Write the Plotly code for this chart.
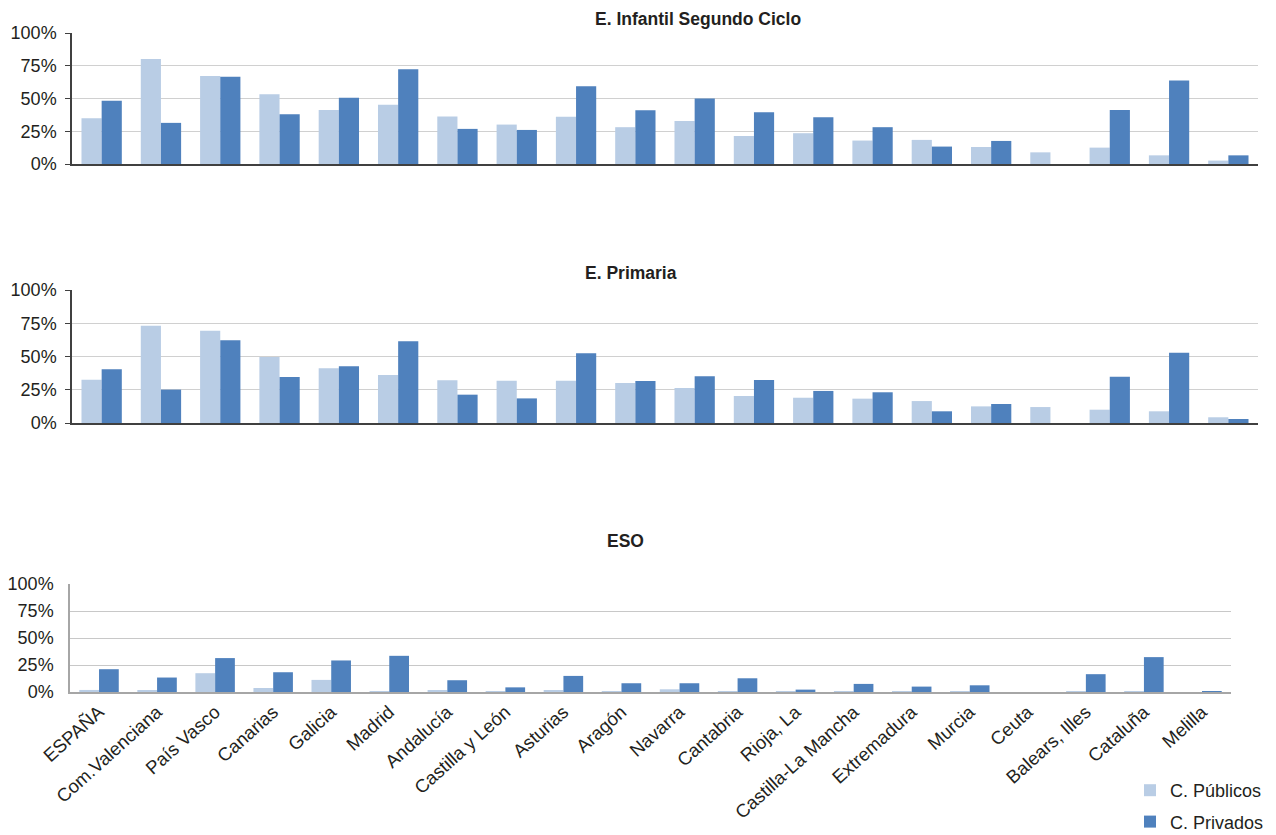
import plotly.graph_objects as go

regiones = ["ESPAÑA", "Com.Valenciana", "País Vasco", "Canarias", "Galicia", "Madrid",
            "Andalucía", "Castilla y León", "Asturias", "Aragón", "Navarra", "Cantabria",
            "Rioja, La", "Castilla-La Mancha", "Extremadura", "Murcia", "Ceuta",
            "Balears, Illes", "Cataluña", "Melilla"]

publicos_infantil = [35.0, 80.1, 67.1, 53.3, 41.3, 45.2, 36.2, 30.1, 36.0, 28.1,
                     32.9, 21.4, 23.5, 17.9, 18.4, 13.0, 8.9, 12.5, 6.6, 2.6]
privados_infantil = [48.2, 31.4, 66.6, 38.0, 50.5, 72.4, 26.8, 26.0, 59.4, 41.1,
                     50.0, 39.5, 35.7, 28.1, 13.3, 17.6, 0.0, 41.3, 63.8, 6.6]

publicos_primaria = [32.6, 73.2, 69.4, 49.6, 41.1, 36.1, 32.1, 31.8, 31.8, 30.1,
                     26.3, 20.3, 19.0, 18.3, 16.5, 12.5, 12.0, 10.0, 8.8, 4.3]
privados_primaria = [40.4, 25.1, 62.2, 34.6, 42.6, 61.4, 21.3, 18.5, 52.4, 31.6,
                     35.1, 32.3, 24.1, 23.1, 8.8, 14.3, 0.0, 34.8, 52.9, 3.0]

publicos_eso = [1.9, 1.6, 17.4, 3.7, 11.2, 0.3, 1.6, 0.2, 1.2, 0.3,
                2.5, 0.2, 0.2, 0.1, 0.1, 0.1, 0.0, 0.3, 0.5, 0.0]
privados_eso = [21.1, 13.4, 31.4, 18.3, 29.2, 33.5, 10.9, 4.3, 14.9, 8.1,
                8.1, 12.7, 2.2, 7.5, 5.0, 6.2, 0.0, 16.5, 32.3, 0.6]

titulos = ["E. Infantil Segundo Ciclo", "E. Primaria", "ESO"]
tick_vals = [0, 25, 50, 75, 100]
tick_text = ["0%", "25%", "50%", "75%", "100%"]

COL_PUB = "#B9CDE5"
COL_PRI = "#4F81BD"
FONT = "Liberation Sans, Arial, sans-serif"
TXT = "#231F20"

W, H = 1268, 827   # visible area once the page's 8px body margin is taken into account
OFF = 8

def px_x(v):
    return (v - OFF) / W

def px_y(v):
    return 1 - (v - OFF) / H

fig = go.Figure()

paneles = [
    (publicos_infantil, privados_infantil, "x", "y"),
    (publicos_primaria, privados_primaria, "x2", "y2"),
    (publicos_eso, privados_eso, "x3", "y3"),
]
for i, (pub, pri, xa, ya) in enumerate(paneles):
    fig.add_trace(go.Bar(x=regiones, y=pub, name="C. Públicos", marker_color=COL_PUB,
                         xaxis=xa, yaxis=ya, showlegend=(i == 0), legendgroup="pub",
                         marker_line_width=0))
    fig.add_trace(go.Bar(x=regiones, y=pri, name="C. Privados", marker_color=COL_PRI,
                         xaxis=xa, yaxis=ya, showlegend=(i == 0), legendgroup="pri",
                         marker_line_width=0))

# geometry (screen pixels): plot areas
geo = [
    dict(x0=72, x1=1258, y0=33, y1=164, axis="#404040", grid="#D0D0D0", ticks="outside", standoff=5),
    dict(x0=72, x1=1258, y0=290, y1=423, axis="#404040", grid="#D0D0D0", ticks="outside", standoff=5),
    dict(x0=70, x1=1231, y0=584, y1=692, axis="#A6A6A6", grid="#C8C8C8", ticks="", standoff=11),
]

layout = dict(
    width=W, height=H,
    margin=dict(l=0, r=0, t=0, b=0, autoexpand=False),
    paper_bgcolor="white", plot_bgcolor="white",
    barmode="group", bargap=0.32, bargroupgap=0.0,
    font=dict(family=FONT, size=17, color=TXT),
    legend=dict(x=px_x(1130), y=px_y(772), xanchor="left", yanchor="top",
                traceorder="grouped", tracegroupgap=5,
                font=dict(family=FONT, size=18, color=TXT),
                bgcolor="rgba(0,0,0,0)"),
)

for i, g in enumerate(geo):
    sfx = "" if i == 0 else str(i + 1)
    xa = "x" + sfx
    ya = "y" + sfx
    layout["xaxis" + sfx] = dict(
        domain=[px_x(g["x0"]), px_x(g["x1"])], anchor=ya, type="category",
        showline=True, linecolor=g["axis"], linewidth=1.5 if i < 2 else 2,
        showgrid=False, ticks="", showticklabels=(i == 2), tickangle=-42,
        tickfont=dict(family=FONT, size=18.5, color=TXT), automargin=False,
        categoryorder="array", categoryarray=regiones, fixedrange=True,
    )
    layout["yaxis" + sfx] = dict(
        domain=[px_y(g["y1"]), px_y(g["y0"])], anchor=xa,
        range=[0, 100], tickvals=tick_vals, ticktext=tick_text,
        showline=True, linecolor=g["axis"], linewidth=1.5,
        showgrid=True, gridcolor=g["grid"], gridwidth=1.3,
        ticks=g["ticks"], ticklen=5, tickcolor=g["axis"],
        ticklabelstandoff=g["standoff"], automargin=False,
        tickfont=dict(family=FONT, size=18, color=TXT), zeroline=False, fixedrange=True,
    )

fig.update_layout(**layout)

title_pos = [(698, 19), (631, 273), (625, 541)]
for t, (cx, cy) in zip(titulos, title_pos):
    fig.add_annotation(text="<b>" + t + "</b>", x=px_x(cx), y=px_y(cy), xref="paper", yref="paper",
                       xanchor="center", yanchor="middle", showarrow=False,
                       font=dict(family=FONT, size=17.5, color=TXT))

fig.write_html("out.html")
